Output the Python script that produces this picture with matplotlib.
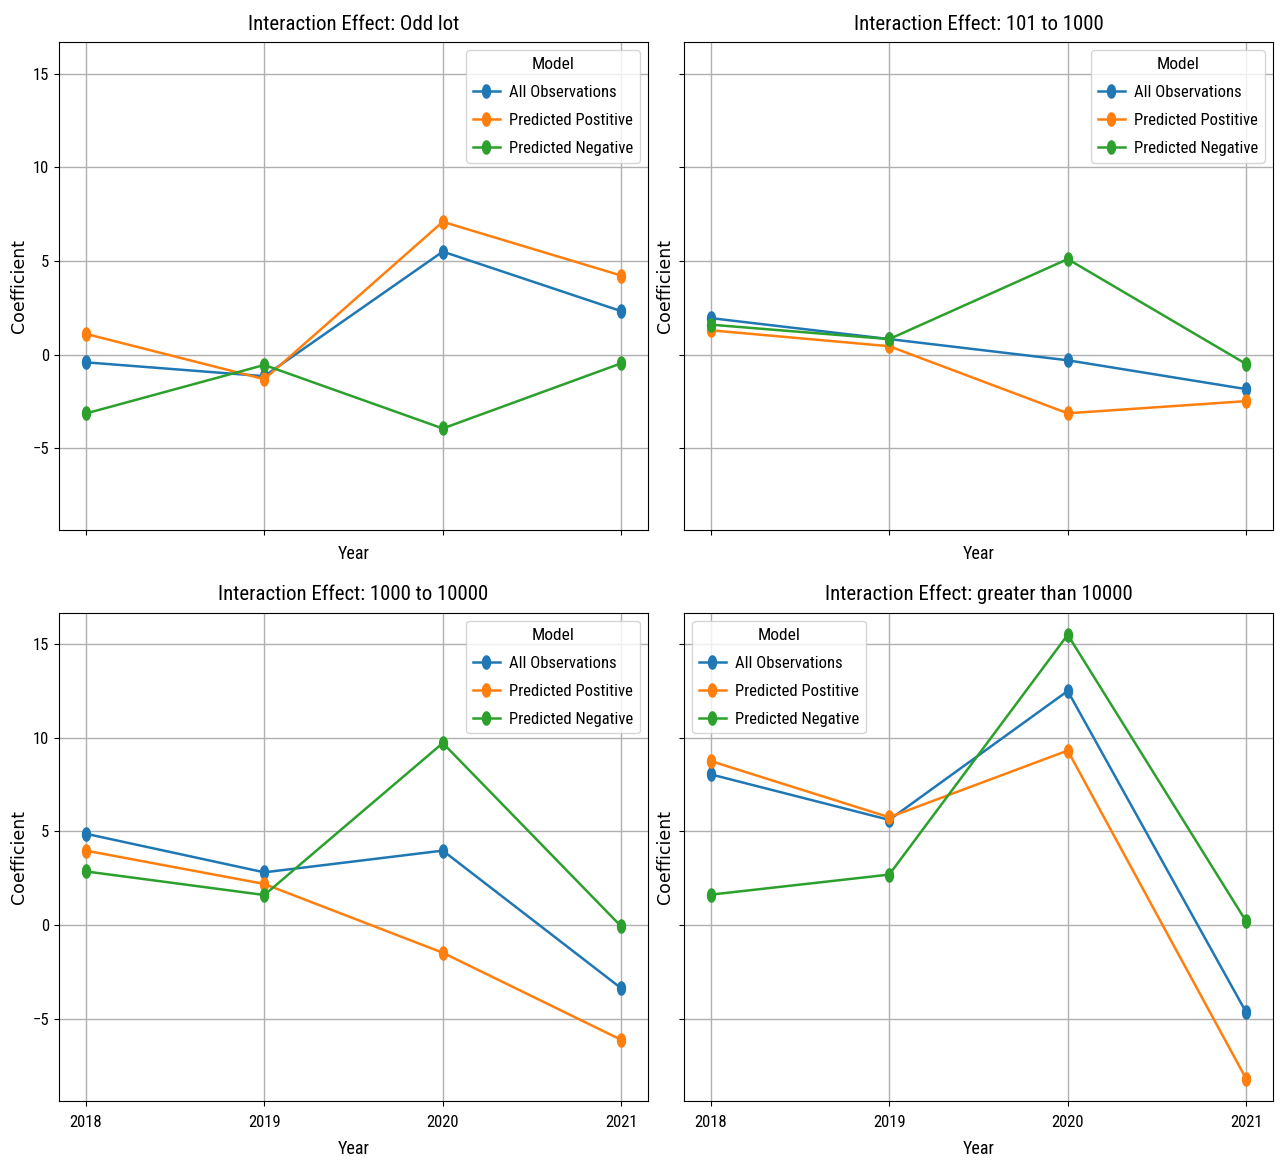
import matplotlib
matplotlib.use("Agg")
import matplotlib.pyplot as plt
from matplotlib import font_manager
from matplotlib.path import Path
from matplotlib.markers import MarkerStyle
import numpy as np

years = [2018, 2019, 2020, 2021]
models = ["All Observations", "Predicted Postitive", "Predicted Negative"]
colors = ["#1f77b4", "#ff7f0e", "#2ca02c"]

titles = ["Interaction Effect: Odd lot", "Interaction Effect: 101 to 1000",
          "Interaction Effect: 1000 to 10000", "Interaction Effect: greater than 10000"]

odd_lot_all = [-0.41, -1.15, 5.50, 2.32]
odd_lot_pos = [1.11, -1.31, 7.09, 4.22]
odd_lot_neg = [-3.14, -0.55, -3.94, -0.46]

r101_all = [1.95, 0.83, -0.30, -1.84]
r101_pos = [1.30, 0.45, -3.13, -2.48]
r101_neg = [1.60, 0.83, 5.10, -0.50]

r1000_all = [4.88, 2.82, 3.98, -3.37]
r1000_pos = [3.98, 2.20, -1.47, -6.12]
r1000_neg = [2.87, 1.61, 9.72, -0.07]

gt10000_all = [8.05, 5.62, 12.50, -4.65]
gt10000_pos = [8.76, 5.76, 9.32, -8.20]
gt10000_neg = [1.63, 2.70, 15.50, 0.20]

panels = [
    [odd_lot_all, odd_lot_pos, odd_lot_neg],
    [r101_all, r101_pos, r101_neg],
    [r1000_all, r1000_pos, r1000_neg],
    [gt10000_all, gt10000_pos, gt10000_neg],
]
legend_locs = ["upper right", "upper right", "upper right", "upper left"]

names = {f.name for f in font_manager.fontManager.ttflist}
preferred = ["Roboto Condensed", "Fira Sans Condensed", "PT Sans Narrow", "Archivo Narrow",
             "IBM Plex Sans Condensed", "Sofia Sans Condensed", "Saira SemiCondensed",
             "Liberation Sans Narrow", "DejaVu Sans"]
main = next(f for f in preferred if f in names or f == "DejaVu Sans")
plt.rcParams["font.family"] = [main, "DejaVu Sans"]

# elliptical marker (narrow horizontally)
t = np.linspace(0, 2 * np.pi, 41)
ell = Path(np.column_stack([0.6 * np.cos(t), np.sin(t)]), closed=True)
marker = MarkerStyle(ell)

fig, axes = plt.subplots(2, 2, figsize=(12.84, 11.64), dpi=100, sharex=True, sharey=True)
fig.subplots_adjust(left=0.046, right=0.9914, top=0.9639, bottom=0.0541,
                    wspace=0.061, hspace=0.168)

for ax, title, series, loc in zip(axes.flat, titles, panels, legend_locs):
    for vals, name, c in zip(series, models, colors):
        ax.plot(years, vals, marker=marker, markersize=9.5, color=c, label=name, linewidth=1.8)
    ax.set_title(title, fontsize=15, pad=9)
    ax.set_xlabel("Year", fontsize=13, labelpad=7)
    ax.set_ylabel("Coefficient", fontsize=12.5, family="DejaVu Sans", labelpad=3.5)
    ax.grid(True, linewidth=1.0)
    ax.set_xticks(years)
    ax.tick_params(labelsize=12)
    ax.tick_params(axis="x", pad=6.5)
    ax.legend(title="Model", loc=loc, fontsize=12, title_fontsize=12.5,
              handlelength=1.6, handletextpad=0.55, labelspacing=0.78)

for ax in axes[0]:
    ax.tick_params(axis="x", labelbottom=False)

fig.savefig("out.png", dpi=100)
